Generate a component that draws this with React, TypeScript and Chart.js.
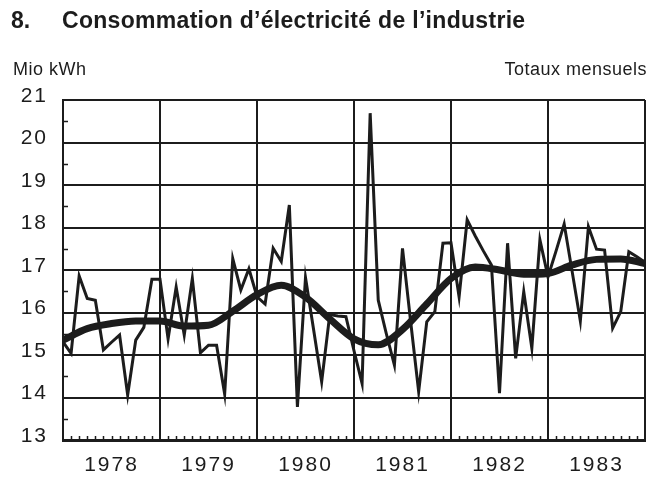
import React, { useEffect, useRef } from 'react';
import { Chart, registerables } from 'chart.js';

Chart.register(...registerables);

// ---- Data (Mio kWh, monthly totals, Jan 1978 .. Jan 1984) ----
const YEARS = ['1978', '1979', '1980', '1981', '1982', '1983'];
const Y_TICKS = [13, 14, 15, 16, 17, 18, 19, 20, 21];

const M_1978 = [15.31, 15.04, 16.86, 16.33, 16.29, 15.12, 15.3, 15.47, 14.06, 15.35, 15.65, 16.78];
const M_1979 = [16.78, 15.38, 16.6, 15.47, 16.8, 15.05, 15.23, 15.23, 14.08, 17.27, 16.53, 17.03];
const M_1980 = [16.37, 16.2, 17.51, 17.2, 18.53, 13.78, 16.82, 15.6, 14.37, 15.95, 15.92, 15.9];
const M_1981 = [15.1, 14.33, 20.69, 16.29, 15.5, 14.76, 17.51, 15.8, 14.14, 15.78, 16.02, 17.63];
const M_1982 = [17.64, 16.37, 18.18, 17.8, 17.45, 17.12, 14.1, 17.63, 14.92, 16.49, 15.16, 17.71];
const M_1983 = [16.84, 17.45, 18.08, 16.95, 15.8, 18.02, 17.49, 17.47, 15.63, 16.02, 17.43, 17.31];
const M_1984 = [17.18];

// smoothed trend, read every 3 months
const TREND_QUARTERLY = [
  15.35, 15.62, 15.74, 15.8, 15.8, 15.68, 15.7, 16.03, 16.42, 16.64, 16.36, 15.85,
  15.38, 15.24, 15.6, 16.2, 16.8, 17.07, 17.0, 16.9, 16.92, 17.12, 17.25, 17.26, 17.15,
];

const MONTHLY = [...M_1978, ...M_1979, ...M_1980, ...M_1981, ...M_1982, ...M_1983, ...M_1984];

const INK = '#1c1c1c';
const FONT = '"Liberation Sans", Arial, Helvetica, sans-serif';

const letterSpacing = {
  id: 'letterSpacing',
  beforeDraw(chart: any) {
    chart.ctx.letterSpacing = '2px';
  },
  afterDraw(chart: any) {
    chart.ctx.letterSpacing = '0px';
  },
};

const minorTicks = {
  id: 'minorTicks',
  afterDatasetsDraw(chart: any) {
    const { ctx, chartArea, scales } = chart;
    const xs = scales.x;
    const ys = scales.y;
    ctx.save();
    ctx.strokeStyle = INK;
    ctx.lineWidth = 1.5;
    ctx.beginPath();
    for (let m = 1; m < YEARS.length * 12; m++) {
      if (m % 12 === 0) continue;
      const px = Math.round(xs.getPixelForValue(m)) + 0.5;
      ctx.moveTo(px, chartArea.bottom);
      ctx.lineTo(px, chartArea.bottom - 4);
    }
    for (let i = 0; i < Y_TICKS.length - 1; i++) {
      const py = Math.round(ys.getPixelForValue(Y_TICKS[i] + 0.5)) + 0.5;
      ctx.moveTo(chartArea.left, py);
      ctx.lineTo(chartArea.left + 5, py);
    }
    ctx.stroke();
    ctx.restore();
  },
};

export default function App() {
  const canvasRef = useRef<HTMLCanvasElement | null>(null);

  useEffect(() => {
    const canvas = canvasRef.current;
    if (!canvas) return;
    const chart = new Chart(canvas, {
      type: 'line',
      data: {
        datasets: [
          {
            label: 'Totaux mensuels',
            data: MONTHLY.map((v, i) => ({ x: i, y: v })),
            borderColor: INK,
            borderWidth: 3,
            pointRadius: 0,
            tension: 0,
            borderJoinStyle: 'miter',
            fill: false,
          },
          {
            label: 'Tendance',
            data: TREND_QUARTERLY.map((v, k) => ({ x: k * 3, y: v })),
            borderColor: INK,
            borderWidth: 7,
            pointRadius: 0,
            tension: 0.4,
            cubicInterpolationMode: 'monotone',
            borderCapStyle: 'round',
            fill: false,
          },
        ],
      },
      options: {
        animation: false,
        responsive: false,
        maintainAspectRatio: false,
        events: [],
        layout: { padding: { top: 100, right: 15, left: 0, bottom: 0 } },
        plugins: {
          legend: { display: false },
          title: { display: false },
          tooltip: { enabled: false },
        },
        scales: {
          x: {
            type: 'linear',
            min: 0,
            max: YEARS.length * 12,
            afterBuildTicks: (s: any) => {
              const t = [];
              for (let v = 0; v <= YEARS.length * 12; v += 6) t.push({ value: v });
              s.ticks = t;
            },
            afterFit: (s: any) => {
              s.height = 37;
            },
            border: { display: true, color: INK, width: 3 },
            grid: {
              color: (c: any) => (c.tick && c.tick.value % 12 === 0 ? INK : 'rgba(0,0,0,0)'),
              lineWidth: 2,
              drawTicks: false,
            },
            ticks: {
              autoSkip: false,
              maxRotation: 0,
              padding: 13,
              color: INK,
              font: { family: FONT, size: 21 },
              callback: (v: any) => (v % 12 === 6 ? YEARS[(v - 6) / 12] : ''),
            },
          },
          y: {
            min: 13,
            max: 21,
            afterBuildTicks: (s: any) => {
              s.ticks = Y_TICKS.map((v) => ({ value: v }));
            },
            afterFit: (s: any) => {
              s.width = 63;
            },
            border: { display: true, color: INK, width: 2 },
            grid: { color: INK, lineWidth: 2, drawTicks: false },
            ticks: {
              padding: 15,
              color: INK,
              font: { family: FONT, size: 21, lineHeight: '8px' },
              callback: (v: any) => [String(v), ''],
            },
          },
        },
      },
      plugins: [letterSpacing, minorTicks],
    } as any);
    return () => chart.destroy();
  }, []);

  const textBase: React.CSSProperties = {
    position: 'absolute',
    fontFamily: FONT,
    color: INK,
    whiteSpace: 'nowrap',
    margin: 0,
  };

  return (
    <div style={{ position: 'absolute', left: 0, top: 0, width: 660, height: 477, background: '#fff', overflow: 'hidden' }}>
      <canvas ref={canvasRef} width={660} height={477} style={{ position: 'absolute', left: 0, top: 0, width: 660, height: 477 }} />
      <div style={{ ...textBase, left: 11, top: 6, fontSize: 23, fontWeight: 700, lineHeight: '28px' }}>8.</div>
      <div style={{ ...textBase, left: 62, top: 6, fontSize: 23, fontWeight: 700, lineHeight: '28px', letterSpacing: '0.3px' }}>
        Consommation d’électricité de l’industrie
      </div>
      <div style={{ ...textBase, left: 13, top: 58, fontSize: 18, lineHeight: '22px', letterSpacing: '0.5px' }}>Mio kWh</div>
      <div style={{ ...textBase, right: 13, top: 58, fontSize: 18, lineHeight: '22px', letterSpacing: '0.5px' }}>
        Totaux mensuels
      </div>
    </div>
  );
}
